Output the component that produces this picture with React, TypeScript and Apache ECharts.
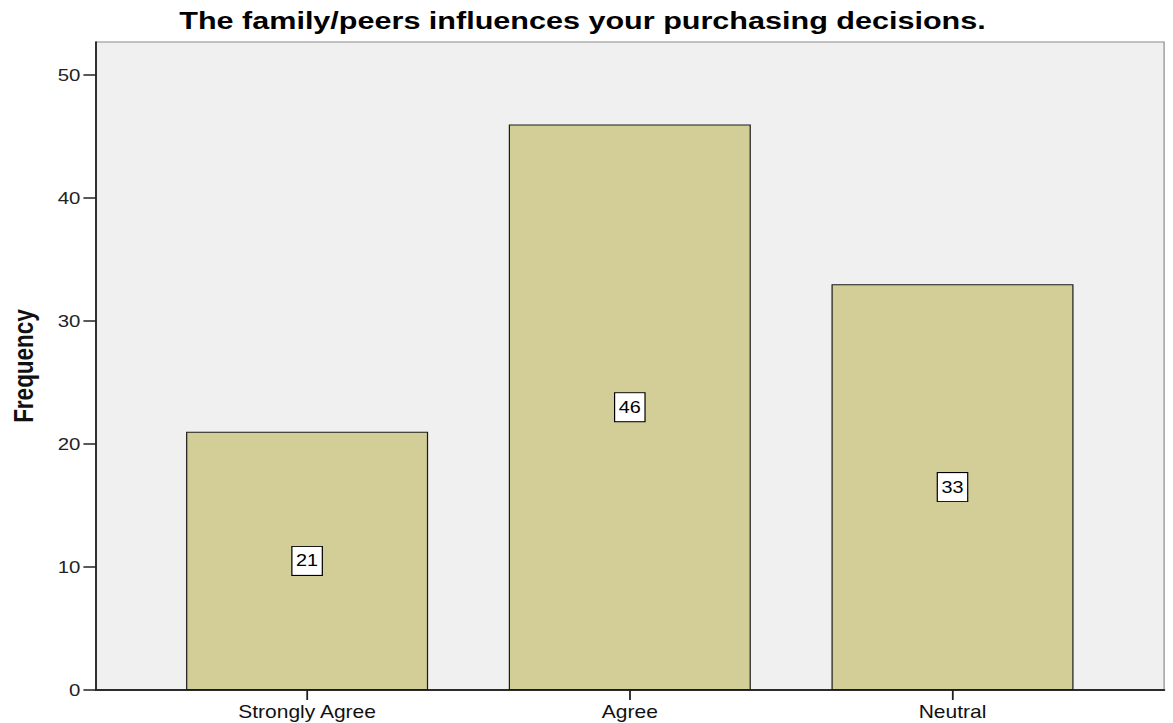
import React, { useEffect, useRef } from "react";
import * as echarts from "echarts";

const categories = ["Strongly Agree", "Agree", "Neutral"];
const frequencies = [21, 46, 33];
const yTicks = [0, 10, 20, 30, 40, 50];
const titleText = "The family/peers influences your purchasing decisions.";
const yAxisName = "Frequency";

const S = 1.2; // horizontal stretch of the reference
const W = 1173;
const H = 723;

export default function App() {
  const ref = useRef<HTMLDivElement>(null);
  useEffect(() => {
    const chart = echarts.init(ref.current!, null, { renderer: "svg" });
    const font = "'Liberation Sans', Arial, sans-serif";
    const IW = W / S;
    const px = (x: number) => x / S;
    chart.setOption({
      animation: false,
      backgroundColor: "#ffffff",
      graphic: [
        {
          type: "text",
          x: px(582.5),
          y: 9,
          scaleX: 1.084,
          style: {
            text: titleText,
            fontSize: 23.5,
            fontWeight: "bold",
            fontFamily: font,
            fill: "#000",
            textAlign: "center",
            textVerticalAlign: "top",
          },
        },
      ],
      grid: [
        {
          left: px(91.5),
          right: IW - px(1163.5),
          top: 42,
          bottom: 33,
          show: true,
          backgroundColor: "#f0f0f0",
          borderColor: "#8a8a8a",
          borderWidth: 1,
        },
        {
          left: px(145.75),
          right: IW - px(1113.25),
          top: 42,
          bottom: 33,
        },
      ],
      xAxis: [
        {
          gridIndex: 0,
          type: "value",
          min: 0,
          max: 1,
          axisLine: { show: true, lineStyle: { color: "#2b2b2b", width: 2 } },
          axisTick: { show: false },
          axisLabel: { show: false },
          splitLine: { show: false },
        },
        {
          gridIndex: 1,
          type: "category",
          data: categories,
          axisLine: { show: false },
          axisTick: { show: true, alignWithLabel: true, length: 10, lineStyle: { color: "#222", width: 1.5 } },
          axisLabel: { margin: 13, fontSize: 17.5, color: "#111", fontFamily: font },
          splitLine: { show: false },
        },
      ],
      yAxis: [
        {
          gridIndex: 0,
          type: "value",
          min: 0,
          max: 52.7,
          name: yAxisName,
          nameLocation: "middle",
          nameGap: 49,
          nameRotate: 90,
          nameTextStyle: { fontSize: 22.5, fontWeight: "bold", color: "#111", fontFamily: font },
          axisLine: { show: true, onZero: false, lineStyle: { color: "#222", width: 1.5 } },
          axisTick: { show: true, length: 10.5, customValues: yTicks, lineStyle: { color: "#222", width: 1.5 } },
          axisLabel: { customValues: yTicks, margin: 13, fontSize: 17, color: "#222", fontFamily: font },
          splitLine: { show: false },
        },
        { gridIndex: 1, type: "value", min: 0, max: 52.7, show: false },
      ],
      series: [
        {
          type: "bar",
          xAxisIndex: 1,
          yAxisIndex: 1,
          data: frequencies,
          barWidth: "75%",
          itemStyle: { color: "#d3ce98", borderColor: "#1a1a1a", borderWidth: 1 },
          label: {
            show: true,
            position: "inside",
            color: "#000",
            fontSize: 16.5,
            fontFamily: font,
            backgroundColor: "#fff",
            borderColor: "#000",
            borderWidth: 1,
            padding: [6, 3, 5, 3],
          },
        },
      ],
    });
    return () => chart.dispose();
  }, []);
  return (
    <div style={{ position: "absolute", left: 0, top: 0, width: W, height: H, overflow: "hidden", background: "#fff" }}>
      <div
        ref={ref}
        style={{ width: W / S, height: H, transform: `scaleX(${S})`, transformOrigin: "0 0" }}
      />
    </div>
  );
}
